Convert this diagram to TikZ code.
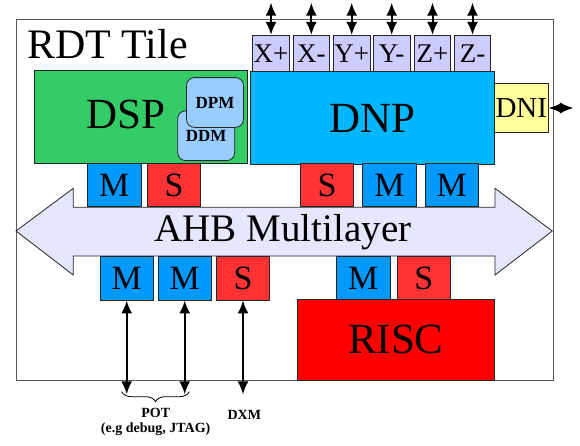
\documentclass[tikz,border=0pt]{standalone}
\usepackage{fontspec}
\setmainfont{Liberation Serif}
\usetikzlibrary{arrows.meta,decorations.pathreplacing}

\definecolor{dspgreen}{RGB}{51,204,102}
\definecolor{dnpblue}{RGB}{0,183,255}
\definecolor{mblue}{RGB}{0,153,255}
\definecolor{sred}{RGB}{255,51,51}
\definecolor{memblue}{RGB}{153,204,255}
\definecolor{dirlav}{RGB}{204,204,255}
\definecolor{dniyellow}{RGB}{255,255,153}
\definecolor{buslav}{RGB}{230,230,255}

\tikzset{
    blk/.style={draw=black!85, line width=0.8pt, inner sep=0pt},
    mport/.style={blk, fill=mblue, minimum width=53.3pt, minimum height=43.4pt, font=\fontsize{34}{34}\selectfont},
    sport/.style={mport, fill=sred},
    dirport/.style={blk, fill=dirlav, minimum width=36.5pt, minimum height=36.4pt, font=\fontsize{27}{27}\selectfont},
    mem/.style={blk, fill=memblue, rounded corners=8pt, minimum width=57pt, minimum height=49.8pt, font=\bfseries\fontsize{17}{17}\selectfont},
    big/.style={font=\fontsize{43}{43}\selectfont},
    tag/.style={font=\bfseries\fontsize{14}{15}\selectfont, inner sep=0pt},
    link/.style={{Latex[length=13pt,width=11pt]}-{Latex[length=13pt,width=11pt]}, line width=2pt}
}

\begin{document}
\begin{tikzpicture}[x=1pt, y=-1pt]
    \useasboundingbox (0,0) rectangle (580,445);
    \path node[draw=black!65, line width=1pt, minimum width=537pt, minimum height=361pt] (tile) at (284.5,199.5) {};
    \draw[blk, fill=buslav] (16,231) -- (73.3,188.3) -- (73.3,207.3) -- (495,207.3) -- (495,188.3)
        -- (552.3,231) -- (495,275) -- (495,256) -- (73.3,256) -- (73.3,275) -- cycle;
    \path node[anchor=base west, inner sep=0pt, font=\fontsize{42}{42}\selectfont] (title) at (27,58.3) {RDT Tile}
        node[blk, fill=dspgreen, minimum width=213pt, minimum height=92.3pt] (DSP) at (140.5,116.8) {}
        node[big] (dsplabel) at (125.7,114.5) {DSP}
        node[mem] (DDM) at (206.2,135.7) {DDM}
        node[mem] (DPM) at (215,102.5) {DPM}
        node[blk, big, fill=dnpblue, minimum width=243.6pt, minimum height=92.8pt] (DNP) at (372.5,118.1) {DNP}
        node[blk, fill=dniyellow, minimum width=54pt, minimum height=49.4pt, font=\fontsize{29}{29}\selectfont] (DNI) at (521.3,108) {DNI}
        node[dirport] (xp) at (271,53.5) {X+}
        node[dirport] (xm) at (311.3,53.5) {X-}
        node[dirport] (yp) at (351.7,53.5) {Y+}
        node[dirport] (ym) at (391.7,53.5) {Y-}
        node[dirport] (zp) at (432.5,53.5) {Z+}
        node[dirport] (zm) at (472.5,53.5) {Z-}
        node[mport] (dspM) at (114.3,185) {M}
        node[sport] (dspS) at (174,185) {S}
        node[sport] (dnpS) at (327,185) {S}
        node[mport] (dnpM1) at (389.5,185) {M}
        node[mport] (dnpM2) at (451.7,185) {M}
        node[font=\fontsize{39}{39}\selectfont] (AHB) at (283,232.5) {AHB Multilayer}
        node[mport] (potM1) at (126.7,278.3) {M}
        node[mport] (potM2) at (184.7,278.3) {M}
        node[sport] (dxmS) at (243,278.3) {S}
        node[mport] (riscM) at (363.3,278.3) {M}
        node[sport] (riscS) at (423.8,278.3) {S}
        node[blk, big, fill=red, minimum width=197pt, minimum height=81pt] (RISC) at (395.8,339.5) {RISC}
        node[tag, anchor=north, align=center] (POT) at (155.7,408) {POT\\(e.g debug, JTAG)}
        node[tag, anchor=base] (DXM) at (244.3,419) {DXM};
    \coordinate (xpend) at (271,2.7);
    \coordinate (xmend) at (311.3,2.7);
    \coordinate (ypend) at (351.7,2.7);
    \coordinate (ymend) at (391.7,2.7);
    \coordinate (zpend) at (432.5,2.7);
    \coordinate (zmend) at (472.5,2.7);
    \coordinate (dniend) at (573.3,108);
    \coordinate (pot1end) at (126.7,394.3);
    \coordinate (pot2end) at (184.7,394.3);
    \coordinate (dxmend) at (243,394.3);
    \draw[link] (xp) -- (xpend);
    \draw[link] (xm) -- (xmend);
    \draw[link] (yp) -- (ypend);
    \draw[link] (ym) -- (ymend);
    \draw[link] (zp) -- (zpend);
    \draw[link] (zm) -- (zmend);
    \draw[link] (DNI) -- (dniend);
    \draw[link] (potM1) -- (pot1end);
    \draw[link] (potM2) -- (pot2end);
    \draw[link] (dxmS) -- (dxmend);
    \draw[line width=0.8pt, decorate, decoration={brace, mirror, amplitude=10pt}] (121.7,391.7) -- (189.3,391.7);
\end{tikzpicture}
\end{document}
